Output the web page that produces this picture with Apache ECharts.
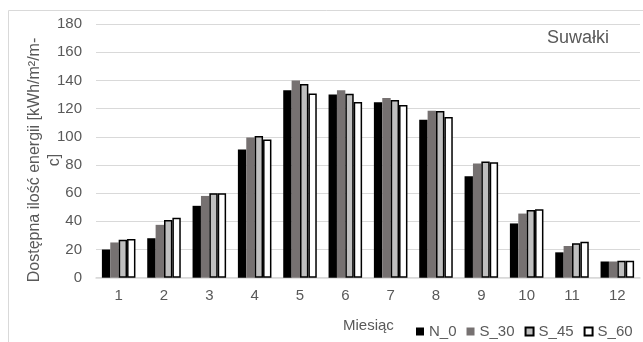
<!DOCTYPE html>
<html><head><meta charset="utf-8">
<script src="https://cdn.jsdelivr.net/npm/echarts@6/dist/echarts.min.js"></script>
<style>html,body{margin:0;padding:0;background:#fff}#c{width:643px;height:342px}</style>
</head><body><div id="c"></div>
<script>
const months = ['1','2','3','4','5','6','7','8','9','10','11','12'];
const N_0  = [20, 28, 51, 91, 133, 130, 124.5, 112, 72, 38.5, 18, 11.5];
const S_30 = [25, 37.5, 58, 99.5, 140, 133, 127.5, 118.5, 81, 45.5, 22.5, 11.5];
const S_45 = [27, 41, 60, 100.5, 137.5, 130.5, 126, 118.3, 82.5, 48, 24.5, 12];
const S_60 = [27.5, 42.5, 60, 98, 130.7, 124.7, 122.5, 114, 82, 48.5, 25.5, 12];
const yTicks = {min: 0, max: 180, interval: 20};
const txt = '#595959';
const font = 'Arial, "Liberation Sans", sans-serif';
const chart = echarts.init(document.getElementById('c'), null, {renderer: 'canvas'});
function s(name, data, color, border) {
  return {
    name, type: 'bar', data, barGap: '0%', barCategoryGap: '26%',
    itemStyle: border ? {color, borderColor: '#000', borderWidth: 1.5} : {color},
    animation: false
  };
}
chart.setOption({
  animation: false,
  textStyle: {fontFamily: font},
  grid: {left: 96, right: 3, top: 24, bottom: 64.3, containLabel: false},
  xAxis: {
    type: 'category', data: months,
    axisLine: {lineStyle: {color: '#d9d9d9', width: 1.5}},
    axisTick: {show: false},
    axisLabel: {color: txt, fontSize: 15, margin: 11, fontFamily: font}
  },
  yAxis: {
    type: 'value', min: yTicks.min, max: yTicks.max, interval: yTicks.interval,
    axisLine: {show: false}, axisTick: {show: false},
    axisLabel: {color: txt, fontSize: 15, margin: 14, fontFamily: font},
    splitLine: {lineStyle: {color: '#d9d9d9', width: 1}}
  },
  legend: {
    left: 416, top: 324, itemWidth: 8, itemHeight: 8, itemGap: 10, padding: 0,
    icon: 'rect',
    textStyle: {color: txt, fontSize: 15, fontFamily: font},
    data: ['N_0', 'S_30', 'S_45', 'S_60']
  },
  graphic: [
    {type: 'rect', silent: true, z: -1, shape: {x: 8.5, y: 10.5, width: 700, height: 400},
     style: {fill: 'none', stroke: '#d9d9d9', lineWidth: 1}},
    {type: 'text', x: 547, y: 38, style: {text: 'Suwałki', fill: txt, font: '18px ' + font, textVerticalAlign: 'middle'}},
    {type: 'text', x: 343, y: 326, style: {text: 'Miesiąc', fill: txt, font: '15px ' + font, textVerticalAlign: 'middle'}},
    {type: 'text', x: 45, y: 160, rotation: Math.PI / 2,
     style: {text: 'Dostępna ilość energii [kWh/m²/m-\nc]', fill: txt, font: '16px ' + font,
             textAlign: 'center', textVerticalAlign: 'middle', lineHeight: 20}}
  ],
  series: [
    s('N_0', N_0, '#000000', false),
    s('S_30', S_30, '#767171', false),
    s('S_45', S_45, '#bfbfbf', true),
    s('S_60', S_60, '#ffffff', true)
  ]
});
</script></body></html>
